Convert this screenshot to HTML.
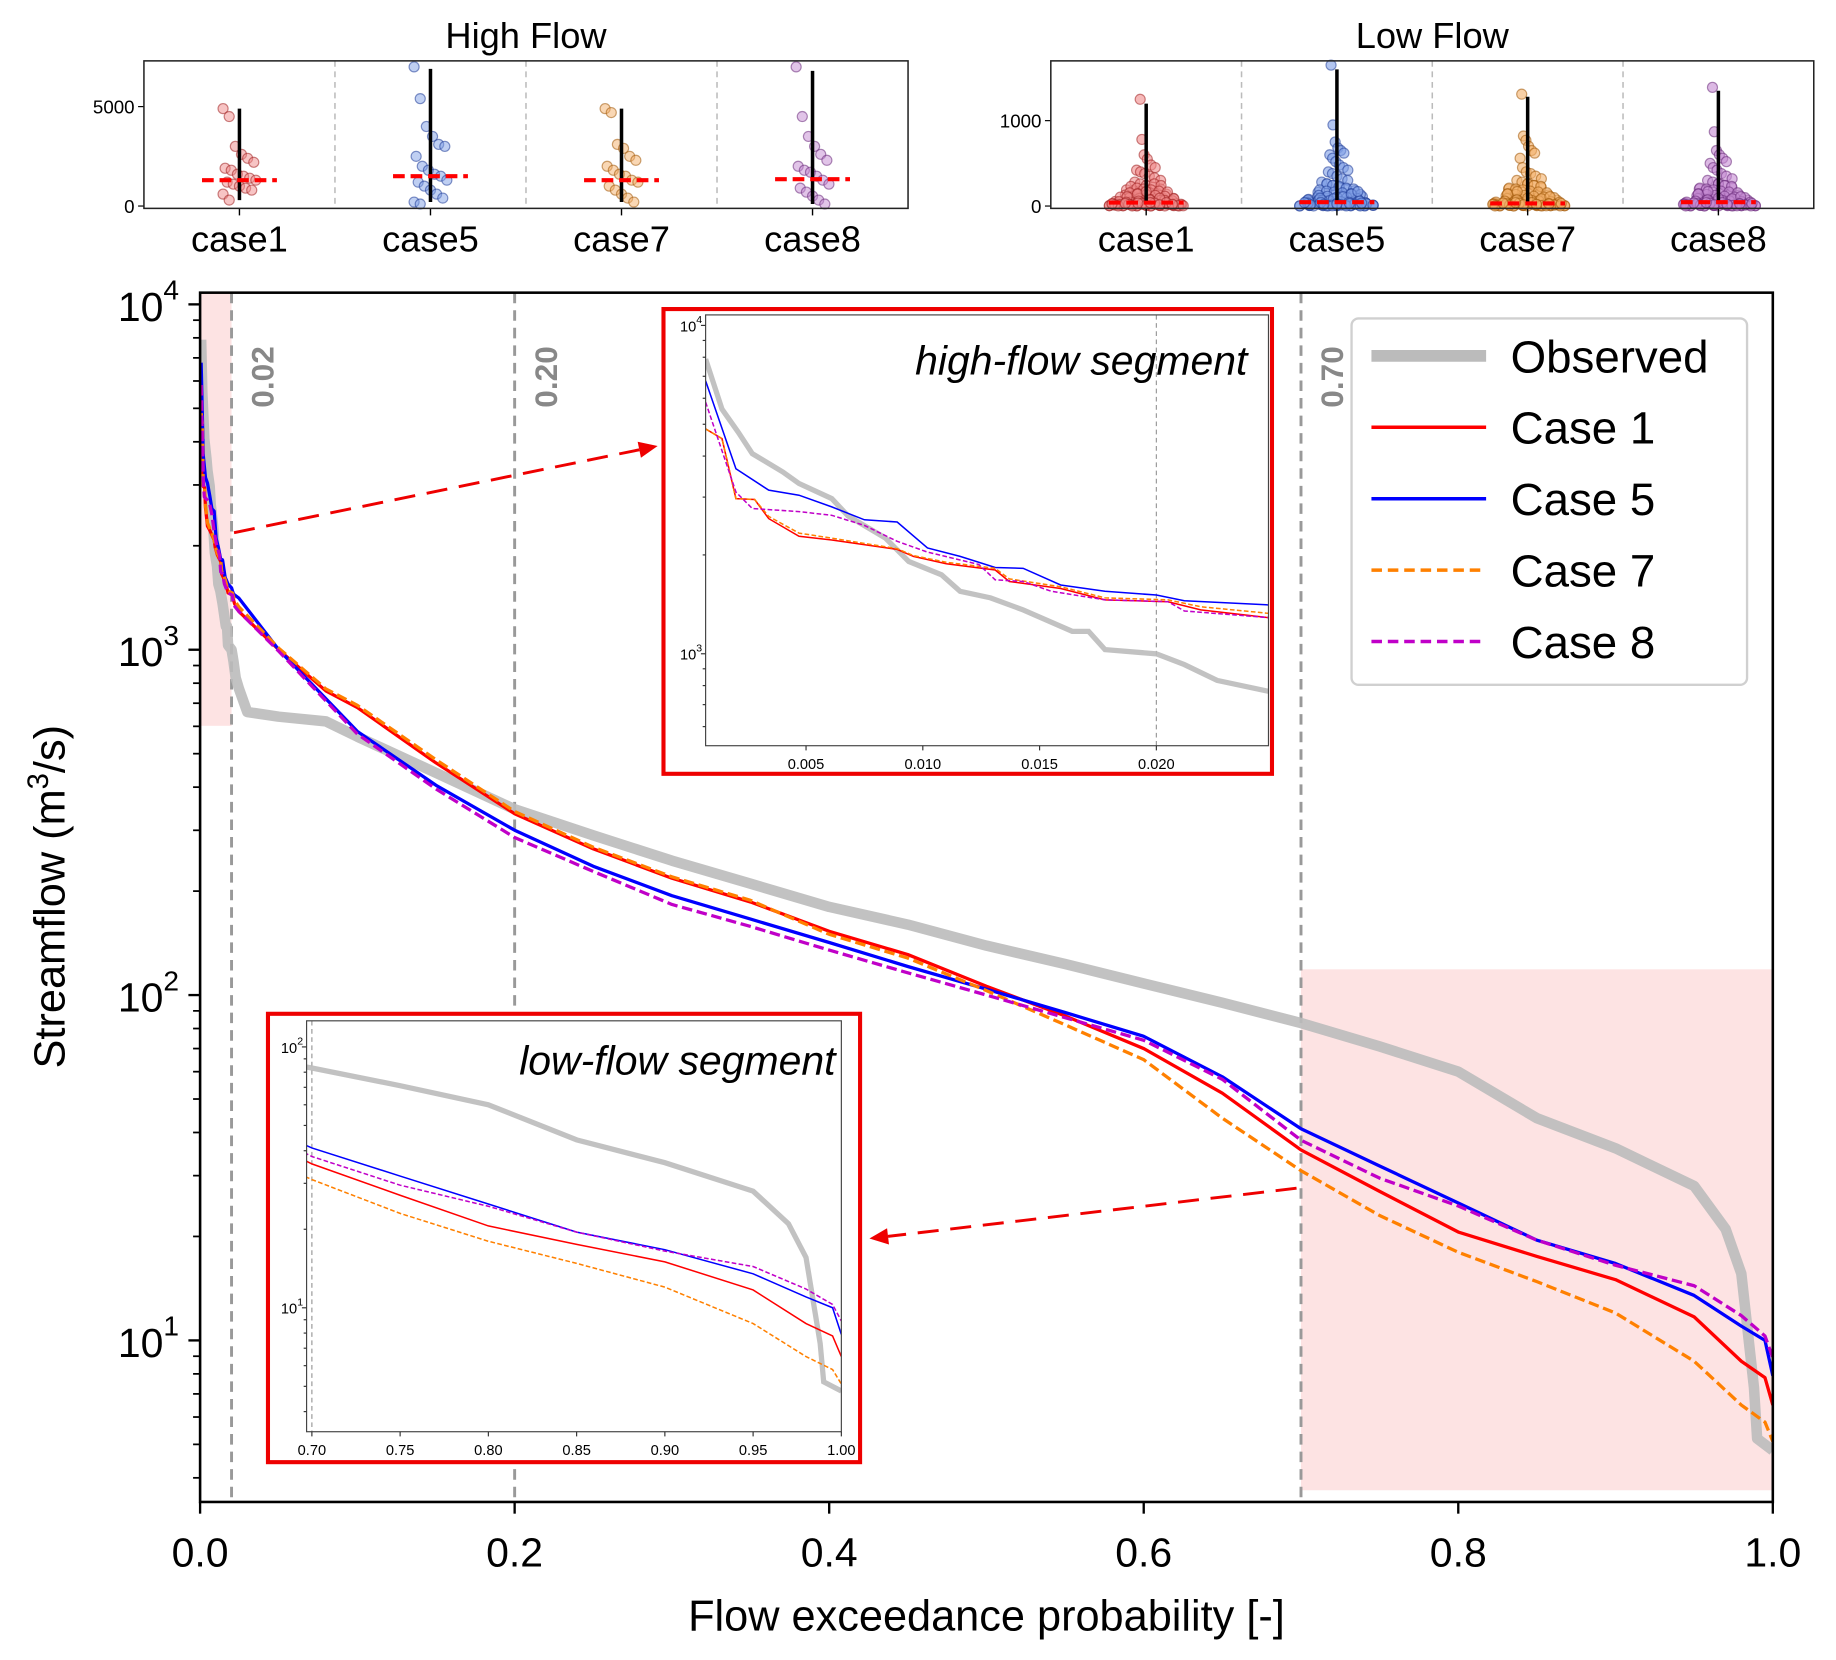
<!DOCTYPE html>
<html><head><meta charset="utf-8"><style>
html,body{margin:0;padding:0;background:#fff;}
svg{display:block;font-family:"Liberation Sans",Arial,sans-serif;}
</style></head><body>
<svg id="fig" xmlns="http://www.w3.org/2000/svg" width="1836" height="1660" viewBox="0 0 1569 1418" preserveAspectRatio="none">
<rect x="0" y="0" width="1569" height="1418" fill="#fff"/>
<g id="top"></g>
<g id="main"></g>
</svg>
<script>
// ---------- data ----------
const obsP=[0.0007,0.0014,0.0021,0.0027,0.004,0.0047,0.0061,0.0068,0.0084,0.0094,0.0108,0.0116,0.0129,0.0143,0.0164,0.0171,0.0178,0.02,0.0212,0.0226,0.0247,0.03,0.05,0.08,0.1,0.15,0.2,0.25,0.3,0.35,0.4,0.45,0.5,0.55,0.6,0.65,0.7,0.75,0.8,0.85,0.9,0.95,0.97,0.98,0.988,0.99,1.0];
const obsQ=[7900,5560,4730,4070,3580,3300,2970,2630,2250,1910,1740,1550,1480,1360,1170,1170,1030,1000,927,830,771,660,640,620,560,440,345,290,245,210,180,160,139,123,108,95,83,71,60,44,36,28,21,15.6,7.3,5.2,4.8];
const c1P=[0.0007,0.0014,0.002,0.0028,0.0034,0.0047,0.0061,0.0089,0.0096,0.011,0.0131,0.0137,0.0159,0.0178,0.0205,0.0219,0.0247,0.05,0.08,0.1,0.15,0.2,0.25,0.3,0.35,0.4,0.45,0.5,0.55,0.6,0.65,0.7,0.75,0.8,0.85,0.9,0.95,0.98,0.995,1.0];
const c1Q=[4840,4520,2970,2950,2580,2280,2220,2080,1980,1880,1800,1660,1580,1460,1440,1360,1290,1000,760,680,470,335,265,218,186,153,131,106,87,70,52,35.6,27,20.6,17.5,15,11.7,8.7,7.8,6.5];
const c5P=[0.0007,0.002,0.0034,0.0047,0.0061,0.0075,0.0089,0.0102,0.0116,0.0131,0.0143,0.0159,0.0178,0.02,0.0212,0.0247,0.05,0.1,0.15,0.2,0.25,0.3,0.35,0.4,0.45,0.5,0.55,0.6,0.65,0.7,0.75,0.8,0.85,0.9,0.95,0.98,0.995,1.0];
const c5Q=[6780,3660,3150,3040,2800,2560,2520,2100,1980,1830,1820,1620,1550,1510,1450,1410,1000,580,405,300,236,194,166,142,121,104,89,76,58,41,32,25,19.5,16.7,13.5,11,10,7.9];
const c7P=[0.0007,0.0014,0.002,0.0028,0.0034,0.0047,0.0061,0.0089,0.0096,0.011,0.0131,0.0137,0.0159,0.0178,0.0205,0.0219,0.0247,0.05,0.08,0.1,0.15,0.2,0.25,0.3,0.35,0.4,0.45,0.5,0.55,0.6,0.65,0.7,0.75,0.8,0.85,0.9,0.95,0.98,0.995,1.0];
const c7Q=[4840,4520,2970,2950,2620,2330,2250,2090,1990,1900,1820,1690,1600,1480,1460,1390,1330,1010,770,690,480,340,268,220,188,150,128,103,82,65,44,31,23,18,14.8,12,8.7,6.5,5.8,5.1];
const c8P=[0.0007,0.002,0.0027,0.0047,0.0061,0.0075,0.0089,0.0102,0.0124,0.0131,0.0143,0.0155,0.0178,0.0205,0.0212,0.0247,0.05,0.1,0.15,0.2,0.25,0.3,0.35,0.4,0.45,0.5,0.55,0.6,0.65,0.7,0.75,0.8,0.85,0.9,0.95,0.98,0.995,1.0];
const c8Q=[5840,3110,2770,2710,2640,2460,2200,2040,1870,1680,1660,1550,1460,1440,1350,1290,990,570,395,286,228,183,158,135,116,100,86,74,57,38,29.5,24.5,19.5,16.5,14.4,11.8,10.3,8.9];
const xTicks=[0,0.2,0.4,0.6,0.8,1.0];
const xTickLabels=["0.0","0.2","0.4","0.6","0.8","1.0"];
const yDecades=[1,2,3,4];
const thresholds=[0.02,0.20,0.70];
const thresholdLabels=["0.02","0.20","0.70"];
const hiTicks=[0.005,0.010,0.015,0.020];
const hiTickLabels=["0.005","0.010","0.015","0.020"];
const loTicks=[0.70,0.75,0.80,0.85,0.90,0.95,1.00];
const loTickLabels=["0.70","0.75","0.80","0.85","0.90","0.95","1.00"];
const cases=["case1","case5","case7","case8"];
const highVals=[
 [4900,4500,3000,2600,2400,2200,1900,1800,1600,1500,1400,1300,1200,1100,1000,900,800,600,300],
 [7000,5400,4000,3500,3100,3000,2500,2000,1800,1600,1500,1300,1200,1000,800,600,400,200,100],
 [4900,4700,3100,2900,2500,2300,2000,1800,1600,1500,1300,1200,1000,800,600,400,200],
 [7000,4500,3500,3000,2600,2300,2000,1800,1700,1500,1300,1100,900,700,500,300,100]];
const highMed=[1300,1500,1300,1350];
const highLo=[300,200,200,100];
const highHi=[4900,6900,4900,6800];
const lowExtra=[260,240,230,210,200,190,175,165,155,145,135,125,115,105,98,88,78,68,62,52,46,38,32,27,21,17,14,11,9,7,5,4,3,2,1,0.5,12,24,36,48,66,85,110,140,170,8,16,28,44,58,72,92,6,13,19,26,33,41,3,2,1,10,15,20,25,30,35,40];
const lowVals=[
 [1250,780,600,550,480,450,420,400,380,350,330,300,280,260,240,220,200,190,180,170,160,150,140,130,120,110,100,95,90,80,75,70,65,60,55,50,45,40,35,30,28,25,22,20,18,15,12,10,8,6,5,4,3,2,1].concat(lowExtra),
 [1650,950,750,680,650,620,600,560,520,480,450,420,400,380,350,320,300,280,260,240,220,200,180,160,150,140,130,120,110,100,90,80,70,60,55,50,45,40,35,30,25,20,15,12,10,8,6,5,4,3,2,1].concat(lowExtra),
 [1310,820,770,700,650,620,560,450,400,380,350,320,300,280,260,240,220,200,180,160,150,140,130,120,110,100,90,80,70,60,55,50,45,40,35,30,25,20,15,12,10,8,6,5,4,3,2,1].concat(lowExtra),
 [1390,870,650,600,560,520,500,450,420,380,350,320,300,280,260,240,220,200,180,160,150,140,130,120,110,100,90,80,70,60,55,50,45,40,35,30,25,20,15,12,10,8,6,5,4,3,2,1].concat(lowExtra)];
const lowMed=[40,45,30,45];
const lowHi=[1200,1600,1280,1350];
const caseFill=["#f08a8a","#7f9fe6","#f3b06a","#c48ad2"];
const caseDark=["#a02020","#1f3c98","#a05808","#6a2a7a"];

// ---------- helpers ----------
const NS="http://www.w3.org/2000/svg";
function E(tag,parent){const e=document.createElementNS(NS,tag);parent.appendChild(e);return e;}
function A(e,o){for(const k in o)e.setAttribute(k,o[k]);return e;}
function pts(P,Q,fx,fy){return P.map((p,i)=>fx(p).toFixed(1)+","+fy(Q[i]).toFixed(1)).join(" ");}
const svg=document.getElementById('fig');
const topG=document.getElementById('top');
const mainG=document.getElementById('main');
const defs=E('defs',svg);
function clip(id,x,y,w,h){const c=E('clipPath',defs);c.setAttribute('id',id);A(E('rect',c),{x:x,y:y,width:w,height:h});}
function txt(parent,x,y,s,o){const t=E('text',parent);t.textContent=s;A(t,o);A(t,{x:x,y:y});return t;}

// ---------- top panels ----------
function panel(px0,px1,py0,py1,vmax,vals,med,lo,hi,title,yt,ytl,name,dense){
  const g=E('g',topG);
  
  
  const fy=v=>py1-2-(v/vmax)*(py1-2-py0);
  const cw=(px1-px0)/4;
  const cx=i=>px0+cw*(i+0.5);
  const bg=E('rect',g);A(bg,{x:px0,y:py0,width:px1-px0,height:py1-py0,fill:'#fff'});
  for(let i=1;i<4;i++){const l=E('line',g);A(l,{x1:px0+cw*i,x2:px0+cw*i,y1:py0,y2:py1,stroke:'#bbb','stroke-width':1.3,'stroke-dasharray':'5,4'});
    
    }
  for(let i=0;i<4;i++){
    const cg=E('g',g);
    
    
    vals[i].forEach((v,j)=>{
      const spread=dense?(5+27*Math.exp(-v/230)):14;
      const off=((j*37)%17-8)/8*spread;
      const c=E('circle',cg);A(c,{cx:cx(i)+off,cy:fy(v),r:4.3,fill:caseFill[i],'fill-opacity':dense?0.6:0.5,stroke:caseDark[i],'stroke-opacity':0.55,'stroke-width':1});
      
      
    });
    const wl=E('line',g);A(wl,{x1:cx(i),x2:cx(i),y1:fy(lo[i]),y2:fy(hi[i]),stroke:'#000','stroke-width':3});
    
    
    const ml=E('line',g);A(ml,{x1:cx(i)-32,x2:cx(i)+32,y1:fy(med[i]),y2:fy(med[i]),stroke:'#f00','stroke-width':3.5,'stroke-dasharray':'10,5'});
    
    
    const tk=E('line',g);A(tk,{x1:cx(i),x2:cx(i),y1:py1,y2:py1+6,stroke:'#000','stroke-width':1.2});
    const tl=txt(g,cx(i),py1+37,cases[i],{'font-size':31,'text-anchor':'middle',fill:'#000'});
    
    
  }
  yt.forEach((v,k)=>{const t=E('line',g);A(t,{x1:px0-5,x2:px0,y1:fy(v),y2:fy(v),stroke:'#000','stroke-width':1});
    const l=txt(g,px0-8,fy(v)+6,ytl[k],{'font-size':16,'text-anchor':'end'});
    
    });
  const fr=E('rect',g);A(fr,{x:px0,y:py0,width:px1-px0,height:py1-py0,fill:'none',stroke:'#222','stroke-width':1.3});
  const tt=txt(g,(px0+px1)/2,41,title,{'font-size':31,'text-anchor':'middle'});
  
  
}
panel(123,776,52,178,7300,highVals,highMed,highLo,highHi,"High Flow",[0,5000],["0","5000"],'high-flow-panel',false);
panel(898,1550,52,178,1700,lowVals,lowMed,lowMed,lowHi,"Low Flow",[0,1000],["0","1000"],'low-flow-panel',true);

// ---------- main axes ----------
const X0=171,X1=1515,Y0=250,Y1=1283;
const fx=p=>X0+(X1-X0)*p;
const fy=v=>1145-295*(Math.log10(v)-1);
clip('cm',X0,Y0,X1-X0,Y1-Y0);
const shade=E('g',mainG);


A(E('rect',shade),{x:fx(0),y:Y0,width:fx(0.02)-fx(0),height:620-Y0,fill:'#fde3e3'});
A(E('rect',shade),{x:fx(0.7),y:828,width:fx(1)-fx(0.7),height:1273-828,fill:'#fde3e3'});
thresholds.forEach((t,i)=>{
  const l=E('line',mainG);A(l,{x1:fx(t),x2:fx(t),y1:Y0,y2:Y1,stroke:'#999','stroke-width':2.5,'stroke-dasharray':'9,6'});
  
  
  const tl=txt(mainG,0,0,thresholdLabels[i],{'font-size':27,'font-weight':'bold',fill:'#888','text-anchor':'middle',transform:`translate(${fx(t)+36},322) rotate(-90)`});
  
  
});
const series=[
 {n:'observed',P:obsP,Q:obsQ,c:'#bbb',w:9,d:'',o:0.9},
 {n:'case1',P:c1P,Q:c1Q,c:'#f00',w:2.8,d:'',o:1},
 {n:'case5',P:c5P,Q:c5Q,c:'#00f',w:2.8,d:'',o:1},
 {n:'case7',P:c7P,Q:c7Q,c:'#ff8000',w:2.8,d:'9,4',o:1},
 {n:'case8',P:c8P,Q:c8Q,c:'#c000c8',w:2.8,d:'9,4',o:1}];
const lg=E('g',mainG);lg.setAttribute('clip-path','url(#cm)');
series.forEach(s=>{
  const pl=E('polyline',lg);A(pl,{points:pts(s.P,s.Q,fx,fy),fill:'none',stroke:s.c,'stroke-width':s.w,'stroke-opacity':s.o,'stroke-linejoin':'round'});
  if(s.d)pl.setAttribute('stroke-dasharray',s.d);
  
  
});
const fr=E('rect',mainG);A(fr,{x:X0,y:Y0,width:X1-X0,height:Y1-Y0,fill:'none',stroke:'#000','stroke-width':2.2});


xTicks.forEach((t,i)=>{A(E('line',mainG),{x1:fx(t),x2:fx(t),y1:Y1,y2:Y1+10,stroke:'#000','stroke-width':2});
  const l=txt(mainG,fx(t),Y1+55,xTickLabels[i],{'font-size':35,'text-anchor':'middle'});
  
  });
yDecades.forEach(d=>{
  const y=fy(Math.pow(10,d));
  A(E('line',mainG),{x1:X0-10,x2:X0,y1:y,y2:y,stroke:'#000','stroke-width':2});
  const l=E('text',mainG);A(l,{x:X0-18,y:y+14,'font-size':35,'text-anchor':'end'});
  l.textContent='10';const sp=E('tspan',l);A(sp,{dy:-18,'font-size':24});sp.textContent=String(d);
  
  
});
for(let d=0;d<4;d++)for(let m=2;m<10;m++){const v=m*Math.pow(10,d);const y=fy(v);if(y>Y0&&y<Y1)A(E('line',mainG),{x1:X0-6,x2:X0,y1:y,y2:y,stroke:'#000','stroke-width':1.5});}
const xl=txt(mainG,843,1393,'Flow exceedance probability [-]',{'font-size':37,'text-anchor':'middle'});


const yl=E('text',mainG);A(yl,{'font-size':37,'text-anchor':'middle',transform:'translate(55,766) rotate(-90)'});
yl.textContent='Streamflow (m';const ys=E('tspan',yl);A(ys,{dy:-14,'font-size':25});ys.textContent='3';const ys2=E('tspan',yl);A(ys2,{dy:14});ys2.textContent='/s)';



function arrow(x1,y1,x2,y2,name){const g=E('g',mainG);
  
  
  const ang=Math.atan2(y2-y1,x2-x1);const hx=x2-16*Math.cos(ang),hy=y2-16*Math.sin(ang);
  A(E('line',g),{x1:x1,y1:y1,x2:hx,y2:hy,stroke:'#e00','stroke-width':2.5,'stroke-dasharray':'18,10'});
  const px=-Math.sin(ang)*7,py=Math.cos(ang)*7;
  A(E('polygon',g),{points:`${x2},${y2} ${hx+px},${hy+py} ${hx-px},${hy-py}`,fill:'#e00'});}
arrow(200,455,562,381,'arrow-to-high-inset');
arrow(1108,1015,743,1058,'arrow-to-low-inset');

const L=E('g',mainG);


A(E('rect',L),{x:1155,y:272,width:338,height:313,rx:6,fill:'#fff',stroke:'#d0d0d0','stroke-width':2});
const legN=['Observed','Case 1','Case 5','Case 7','Case 8'];
series.forEach((s,i)=>{const y=304+i*61;
  const ln=E('line',L);A(ln,{x1:1172,x2:1270,y1:y,y2:y,stroke:s.c,'stroke-width':s.w===9?10:3});
  if(s.d)ln.setAttribute('stroke-dasharray','9,5');
  const t=txt(L,1291,y+14,legN[i],{'font-size':39});
  
  });

function inset(name,bx0,by0,bx1,by1,ax0,ay0,ax1,ay1,pLo,pHi,yTopLog,yBotLog,ticks,tickL,dash,label,labX,labY,decs){
  const g=E('g',mainG);
  
  
  A(E('rect',g),{x:bx0,y:by0,width:bx1-bx0,height:by1-by0,fill:'#fff',stroke:'#e00','stroke-width':3.5});
  const ix=p=>ax0+(p-pLo)/(pHi-pLo)*(ax1-ax0);
  const iy=v=>ay0+(yTopLog-Math.log10(v))/(yTopLog-yBotLog)*(ay1-ay0);
  clip(name+'c',ax0,ay0,ax1-ax0,ay1-ay0);
  A(E('line',g),{x1:ix(dash),x2:ix(dash),y1:ay0,y2:ay1,stroke:'#999','stroke-width':1,'stroke-dasharray':'4,3'});
  const cg=E('g',g);cg.setAttribute('clip-path',`url(#${name}c)`);
  series.forEach(s=>{const pl=E('polyline',cg);A(pl,{points:pts(s.P,s.Q,ix,iy),fill:'none',stroke:s.c,'stroke-width':s.w===9?4.5:1.3,'stroke-opacity':s.o});
    if(s.d)pl.setAttribute('stroke-dasharray','4,2');
    
    });
  A(E('rect',g),{x:ax0,y:ay0,width:ax1-ax0,height:ay1-ay0,fill:'none',stroke:'#444','stroke-width':1});
  ticks.forEach((t,i)=>{A(E('line',g),{x1:ix(t),x2:ix(t),y1:ay1,y2:ay1+4,stroke:'#333'});
    txt(g,ix(t),ay1+20,tickL[i],{'font-size':12.5,'text-anchor':'middle'});});
  decs.forEach(d=>{const y=iy(Math.pow(10,d));A(E('line',g),{x1:ax0-4,x2:ax0,y1:y,y2:y,stroke:'#333'});
    const l=E('text',g);A(l,{x:ax0-3,y:y+5,'font-size':12.5,'text-anchor':'end'});l.textContent='10';
    const sp=E('tspan',l);A(sp,{dy:-7,'font-size':9});sp.textContent=String(d);
    for(let m=2;m<10;m++){const yy=iy(m*Math.pow(10,d));if(yy>ay0&&yy<ay1)A(E('line',g),{x1:ax0-2.5,x2:ax0,y1:yy,y2:yy,stroke:'#333'});}});
  for(let m=2;m<10;m++){const yy=iy(m*Math.pow(10,decs[0]-1));if(yy>ay0&&yy<ay1)A(E('line',g),{x1:ax0-2.5,x2:ax0,y1:yy,y2:yy,stroke:'#333'});}
  const lt=txt(g,labX,labY,label,{'font-size':35,'font-style':'italic','text-anchor':'end'});
  
  
}
inset('high-flow-inset',567,264,1087,661,603,269,1084,637,0.0007,0.0248,4.032,2.72,hiTicks,hiTickLabels,0.020,'high-flow segment',1066,320,[3,4]);
inset('low-flow-inset',229,866,735,1249,262,872,719,1223,0.697,1.0,2.1,0.525,loTicks,loTickLabels,0.70,'low-flow segment',714,918,[1,2]);
</script>
</body></html>
